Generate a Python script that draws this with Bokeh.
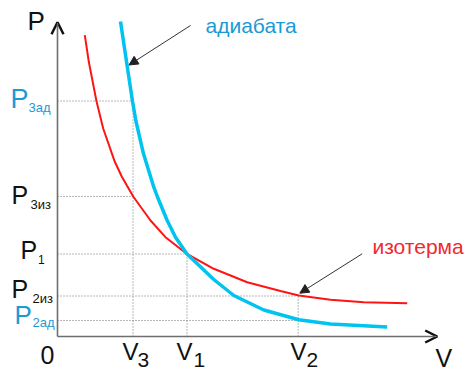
from bokeh.plotting import figure
from bokeh.models import Range1d, Label, Arrow, OpenHead, NormalHead
from bokeh.embed import file_html
from bokeh.resources import INLINE

# ---- data (arbitrary units) ----
adiabat_V = [6.30, 6.96, 7.50, 7.83, 8.60, 9.63, 9.98, 10.97, 11.80, 12.95, 15.63, 17.63, 20.63, 24.13, 27.30, 32.97]
adiabat_P = [31.50, 27.10, 23.53, 21.60, 18.27, 14.93, 14.00, 11.60, 9.93, 8.25, 5.70, 4.10, 2.65, 1.67, 1.25, 0.95]
isotherm_V = [2.73, 3.13, 3.90, 4.57, 5.73, 6.45, 7.57, 9.30, 10.80, 12.95, 15.63, 18.97, 22.30, 24.13, 27.30, 30.63, 34.97]
isotherm_P = [30.13, 27.47, 23.53, 20.80, 17.47, 15.95, 14.00, 11.60, 9.93, 8.25, 6.77, 5.43, 4.55, 4.10, 3.67, 3.43, 3.33]

V3, V1, V2 = 7.55, 12.95, 24.07
P3ad, P3iz, P1, P2iz, P2ad = 23.55, 14.00, 8.25, 4.05, 1.60
V_axis_end, P_axis_end = 37.97, 31.43

BLUE_TXT = "#1a9ad6"
CYAN = "#00c4ef"
RED = "#ff1414"
RED_TXT = "#ee2a2e"
FONT = "Liberation Sans"

p = figure(width=464, height=372, x_range=Range1d(-5.7, 40.7), y_range=Range1d(-3.6, 33.6),
           output_backend="svg", toolbar_location=None, min_border=0,
           x_axis_location=None, y_axis_location=None, outline_line_color=None)
p.grid.visible = False

# dotted guide lines
hx0 = [0, 0, 0, 0, 0]
hx1 = [V3, V3, V1, V2, V2]
hy = [P3ad, P3iz, P1, P2iz, P2ad]
p.segment(x0=hx0, y0=hy, x1=hx1, y1=hy, line_color="#707070", line_width=1, line_dash="1 2")
vx = [V3, V1, V2]
vy1 = [P3ad, P1, P2iz]
p.segment(x0=vx, y0=[0, 0, 0], x1=vx, y1=vy1, line_color="#707070", line_width=1, line_dash="1 2")

# curves
p.line(isotherm_V, isotherm_P, line_color=RED, line_width=2)
p.line(adiabat_V, adiabat_P, line_color=CYAN, line_width=3.5)

# axes with arrow heads
p.add_layout(Arrow(x_start=0, y_start=0, x_end=V_axis_end, y_end=0, line_color="#6e6e6e", line_width=1.6,
                   end=OpenHead(size=12, line_color="#111111", line_width=2.5)))
p.add_layout(Arrow(x_start=0, y_start=0, x_end=0, y_end=P_axis_end, line_color="#6e6e6e", line_width=1.6,
                   end=OpenHead(size=12, line_color="#111111", line_width=2.5)))

# pointer arrows
p.add_layout(Arrow(x_start=13.3, y_start=31.1, x_end=7.15, y_end=27.15, line_color="#333333", line_width=1,
                   end=NormalHead(size=9, fill_color="#222222", line_color="#222222")))
p.add_layout(Arrow(x_start=30.47, y_start=8.27, x_end=24.23, y_end=4.33, line_color="#333333", line_width=1,
                   end=NormalHead(size=9, fill_color="#222222", line_color="#222222")))


def lab(text, px, py, size, color="#111111", font=FONT):
    # py is the intended baseline in picture pixels; compensate for the label box offset
    yb = py - 0.346 * size
    p.add_layout(Label(x=(px - 57) / 10, y=(336 - yb) / 10, text=text, text_font=font,
                       text_font_size=f"{size}px", text_color=color, text_baseline="alphabetic",
                       text_align="left"))


lab("P", 27, 29, 26)
lab("P", 10, 108, 27, BLUE_TXT)
lab("3ад", 28, 111, 13, BLUE_TXT)
lab("P", 11, 203, 25)
lab("3из", 30, 208, 13)
lab("P", 20, 258, 25)
lab("1", 37.5, 263, 12)
lab("P", 11, 297, 25)
lab("2из", 32, 302, 13)
lab("P", 14, 323, 26, BLUE_TXT)
lab("2ад", 32, 326, 13, BLUE_TXT)
lab("0", 40, 363, 25)
lab("V", 122, 359, 24)
lab("3", 137, 367, 21)
lab("V", 176, 359, 24)
lab("1", 193, 367, 21)
lab("V", 290, 359, 24)
lab("2", 306, 367, 21)
lab("V", 435, 366, 25)
lab("адиабата", 205, 32, 21, BLUE_TXT)
lab("изотерма", 372, 253, 21, RED_TXT)

open("out.html", "w").write(file_html(p, INLINE))
